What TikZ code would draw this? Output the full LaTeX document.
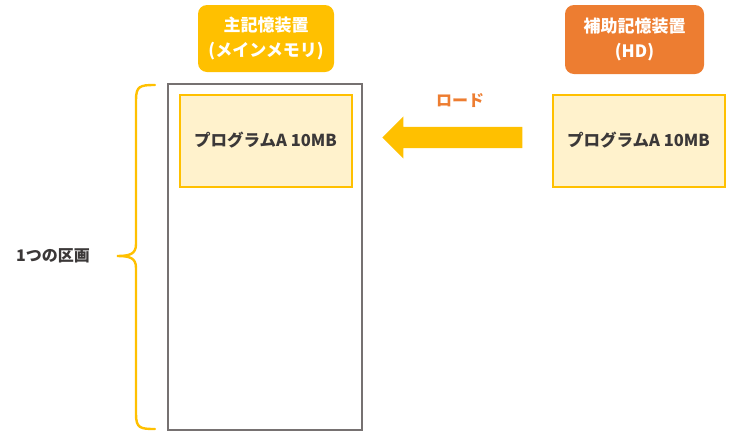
\documentclass[tikz,border=0pt]{standalone}
\usepackage{fontspec}
\setmainfont{Noto Sans CJK JP}
\usepackage{tikz}
\usetikzlibrary{positioning, calc, shapes.arrows}

\definecolor{memyellow}{HTML}{FFC000}
\definecolor{hdorange}{HTML}{ED7D31}
\definecolor{progfill}{HTML}{FFF2CC}
\definecolor{framegray}{HTML}{767171}
\definecolor{textgray}{HTML}{3B3838}

\tikzset{
    titlebox/.style={rounded corners=9pt, text=white, font=\bfseries\fontsize{17}{25}\selectfont,
        align=center, minimum width=136pt, inner sep=0pt},
    progbox/.style={draw=memyellow, fill=progfill, line width=2pt, minimum width=172pt,
        minimum height=92pt, text=textgray, font=\bfseries\fontsize{16.5}{18}\selectfont},
}

\begin{document}
\begin{tikzpicture}[x=1pt, y=-1pt]
    \useasboundingbox (0,0) rectangle (739,440);

    % main memory frame
    \node[draw=framegray, line width=1.6pt, minimum width=194pt, minimum height=346pt, inner sep=0pt]
        (memory) at (265,257) {};

    % titles
    \node[titlebox, fill=memyellow, minimum height=67pt] (memtitle) at (266,38.5)
        {主記憶装置\\(メインメモリ)};
    \node[titlebox, fill=hdorange, minimum width=139pt, minimum height=69pt] (hdtitle) at (634.5,39.5)
        {補助記憶装置\\(HD)};

    % program blocks
    \node[progbox] (progmem) at (265.5,140.5) {プログラムA 10MB};
    \node[progbox] (proghd) at (638.5,140.5) {プログラムA 10MB};

    % load arrow
    \node[single arrow, shape border rotate=180, fill=memyellow, draw=none,
        minimum width=42pt, minimum height=140pt, single arrow head extend=10.5pt,
        single arrow head indent=0pt, inner xsep=0pt, inner ysep=10.5pt, anchor=tip]
        (load) at (382,137.5) {};
    \node[text=hdorange, font=\bfseries\fontsize{16}{18}\selectfont] (loadlabel) at (460,101) {ロード};

    % brace for one partition
    \draw[memyellow, line width=2.4pt, line cap=round]
        (155,85) .. controls (140,85) and (136,86) .. (136,100)
        -- (136,244) .. controls (136,254) and (130,256) .. (117,256)
        .. controls (130,256) and (136,258) .. (136,268)
        -- (136,414) .. controls (136,428) and (140,429) .. (155,429);
    \node[text=textgray, font=\bfseries\fontsize{16}{18}\selectfont] (partition) at (53,256) {1つの区画};
\end{tikzpicture}
\end{document}
